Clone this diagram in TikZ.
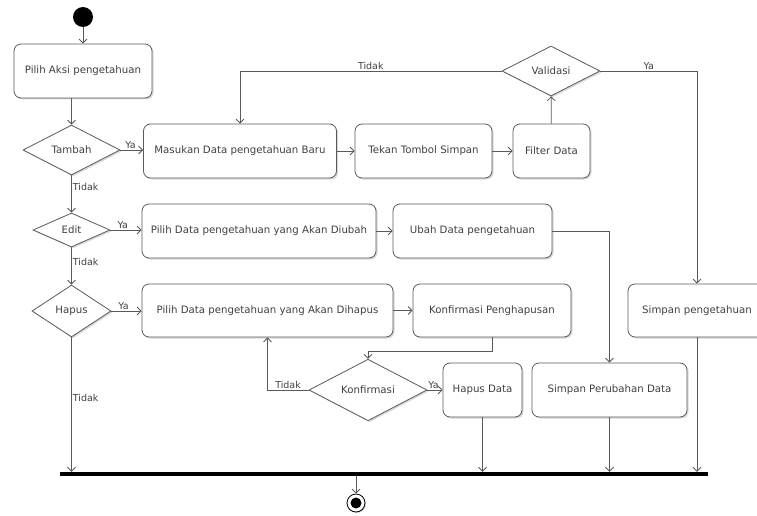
\documentclass[tikz,border=0pt]{standalone}
\usepackage{fontspec}
\setmainfont{DejaVu Sans}
\usetikzlibrary{arrows.meta,shapes.geometric,shadows,calc}
\definecolor{lc}{HTML}{5A5A5A}
\definecolor{tc}{HTML}{404040}
\begin{document}
\begin{tikzpicture}[x=1pt,y=-1pt,
  font=\fontsize{10.2}{12}\selectfont,
  act/.style={draw=lc, line width=0.8pt, rounded corners=7pt, fill=white, text=tc, inner sep=0pt,
    drop shadow={shadow xshift=1.5pt, shadow yshift=-1.5pt, opacity=0.3}},
  dec/.style={draw=lc, line width=0.8pt, diamond, fill=white, text=tc, inner sep=0pt,
    drop shadow={shadow xshift=1.5pt, shadow yshift=-1.5pt, opacity=0.3}},
  flow/.style={draw=lc, line width=0.8pt, -{Straight Barb[length=4pt,width=8pt]}},
  lbl/.style={text=tc, inner sep=1pt, font=\fontsize{9.5}{11}\selectfont}]
\useasboundingbox (0,0) rectangle (757,516);

% start
\node[circle, fill=black, minimum size=20pt, inner sep=0pt] (start) at (83,17) {};
\node[act, minimum width=138pt, minimum height=54pt] (aksi) at (83,71) {Pilih Aksi pengetahuan};

% decisions on the left
\node[dec, minimum width=97pt, minimum height=50pt] (tambah) at (71.5,150) {Tambah};
\node[dec, minimum width=77pt, minimum height=34pt] (edit) at (71.5,230) {Edit};
\node[dec, minimum width=79pt, minimum height=52pt] (hapus) at (71.5,311) {Hapus};

% row 1
\node[act, minimum width=193pt, minimum height=54pt] (masukan) at (240,151) {Masukan Data pengetahuan Baru};
\node[act, minimum width=137pt, minimum height=54pt] (tekan) at (423.5,151) {Tekan Tombol Simpan};
\node[act, minimum width=77pt, minimum height=54pt] (filter) at (551.5,151) {Filter Data};
\node[dec, minimum width=98pt, minimum height=50pt] (validasi) at (551,71) {Validasi};

% row 2
\node[act, minimum width=234pt, minimum height=54pt] (pilihubah) at (259,231) {Pilih Data pengetahuan yang Akan Diubah};
\node[act, minimum width=159pt, minimum height=54pt] (ubah) at (472.5,231) {Ubah Data pengetahuan};

% row 3
\node[act, minimum width=251pt, minimum height=53pt] (pilihhapus) at (267.5,310.5) {Pilih Data pengetahuan yang Akan Dihapus};
\node[act, minimum width=158pt, minimum height=53pt] (konfpeng) at (492,310.5) {Konfirmasi Penghapusan};
\node[act, minimum width=138pt, minimum height=53pt] (simpanpeng) at (697,310.5) {Simpan pengetahuan};

% row 4
\node[dec, minimum width=118pt, minimum height=53pt] (konfirmasi) at (368,390) {Konfirmasi};
\node[act, minimum width=79pt, minimum height=54pt] (hapusdata) at (482.5,390) {Hapus Data};
\node[act, minimum width=155pt, minimum height=54pt] (simpanubah) at (609.5,390) {Simpan Perubahan Data};

% join bar and end
\node[fill=black, minimum width=648pt, minimum height=4pt, inner sep=0pt] (bar) at (384,474) {};
\node[circle, draw=black, line width=0.8pt, fill=white, minimum size=18pt, inner sep=0pt,
  drop shadow={shadow xshift=1pt, shadow yshift=-1pt, opacity=0.3}] (endring) at (356,503) {};
\node[circle, fill=black, minimum size=11pt, inner sep=0pt] (enddot) at (endring.center) {};

% connectors
\draw[flow] (start) -- (aksi);
\draw[flow] (aksi.south -| tambah.north) -- (tambah.north);
\draw[flow] (tambah.east) -- (masukan.west |- tambah.east) node[lbl, pos=0.45, above] {Ya};
\draw[flow] (tambah.south) -- (edit.north) node[lbl, pos=0.3, right] {Tidak};
\draw[flow] (masukan) -- (tekan);
\draw[flow] (tekan) -- (filter);
\draw[flow] (filter) -- (validasi);
\draw[flow] (validasi.west) -| (masukan.north) node[lbl, pos=0.25, above] {Tidak};
\draw[flow] (validasi.east) -| (simpanpeng.north) node[lbl, pos=0.25, above] {Ya};

\draw[flow] (edit.east) -- (pilihubah.west |- edit.east) node[lbl, pos=0.4, above] {Ya};
\draw[flow] (pilihubah) -- (ubah);
\draw[flow] (ubah.east) -| (simpanubah.north);
\draw[flow] (edit.south) -- (hapus.north) node[lbl, pos=0.4, right] {Tidak};

\draw[flow] (hapus.east) -- (pilihhapus.west |- hapus.east) node[lbl, pos=0.4, above] {Ya};
\draw[flow] (pilihhapus) -- (konfpeng);
\coordinate (kbend) at ($(konfpeng.south)+(0,14)$);
\draw[flow] (konfpeng.south) -- (kbend) -| (konfirmasi.north);
\draw[flow] (konfirmasi.west) -| (pilihhapus.south) node[lbl, pos=0.25, above] {Tidak};
\draw[flow] (konfirmasi.east) -- (hapusdata.west) node[lbl, pos=0.4, above] {Ya};

\draw[flow] (hapus.south) -- (hapus.south |- bar.north) node[lbl, pos=0.45, right] {Tidak};
\draw[flow] (hapusdata.south) -- (hapusdata.south |- bar.north);
\draw[flow] (simpanubah.south) -- (simpanubah.south |- bar.north);
\draw[flow] (simpanpeng.south) -- (simpanpeng.south |- bar.north);
\draw[flow] (bar.south -| endring) -- (endring);
\end{tikzpicture}
\end{document}
